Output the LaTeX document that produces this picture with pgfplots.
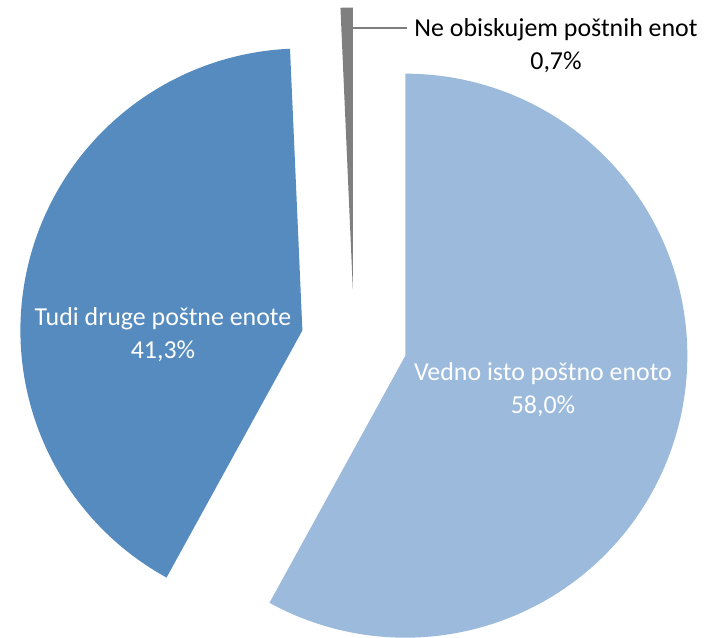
\documentclass[border=0pt]{standalone}
\usepackage{fontspec}
\setmainfont{Carlito}
\usepackage{pgfplots}
\pgfplotsset{compat=1.18}
\definecolor{lightblue}{RGB}{156,186,220}
\definecolor{darkblue}{RGB}{85,139,190}
\definecolor{slicegray}{RGB}{127,127,127}
% data (percent)
\def\vA{58.0}% Vedno isto poštno enoto
\def\vB{41.3}% Tudi druge poštne enote
\def\vC{0.7}%  Ne obiskujem poštnih enot
% geometry (pixels)
\def\cx{354.0}\def\cy{295.5}\def\ex{53}\def\rr{282}
\newcommand\slice[3]{% start%, end%, colour
  \pgfmathsetmacro\aa{3.6*#1}%
  \pgfmathsetmacro\bb{3.6*#2}%
  \pgfmathsetmacro\as{\aa+1}%
  \pgfmathsetmacro\md{(\aa+\bb)/2}%
  \pgfmathsetmacro\vx{\cx+\ex*sin(\md)}%
  \pgfmathsetmacro\vy{\cy+\ex*cos(\md)}%
  \edef\temp{\noexpand\addplot[fill=#3, draw=none, variable=\noexpand\t,
    samples at={-1,\aa,\as,...,\bb,\bb}]
    ({\vx+\rr*sin(\noexpand\t)*(\noexpand\t>=0)},{\vy+\rr*cos(\noexpand\t)*(\noexpand\t>=0)});}%
  \temp
}
\begin{document}
\begin{tikzpicture}
\begin{axis}[
  width=714bp, height=638bp, scale only axis,
  xmin=0, xmax=714, ymin=0, ymax=638,
  hide axis, clip=false,
]
\path (rel axis cs:0,0) rectangle (rel axis cs:1,1);
\slice{0}{\vA}{lightblue}
\pgfmathsetmacro\sAB{\vA+\vB}
\slice{\vA}{\sAB}{darkblue}
\slice{\sAB}{100}{slicegray}
\addplot[slicegray, line width=1.2pt] coordinates {(353,610) (407,610)};
\node[font=\fontsize{26}{33}\selectfont, align=center, text=white] at (axis cs:543,248) {Vedno isto poštno enoto\\58,0\%};
\node[font=\fontsize{26}{33}\selectfont, align=center, text=white] at (axis cs:163,303) {Tudi druge poštne enote\\41,3\%};
\node[font=\fontsize{26}{33}\selectfont, align=center, text=black] at (axis cs:556,592) {Ne obiskujem poštnih enot\\0,7\%};
\end{axis}
\end{tikzpicture}
\end{document}
